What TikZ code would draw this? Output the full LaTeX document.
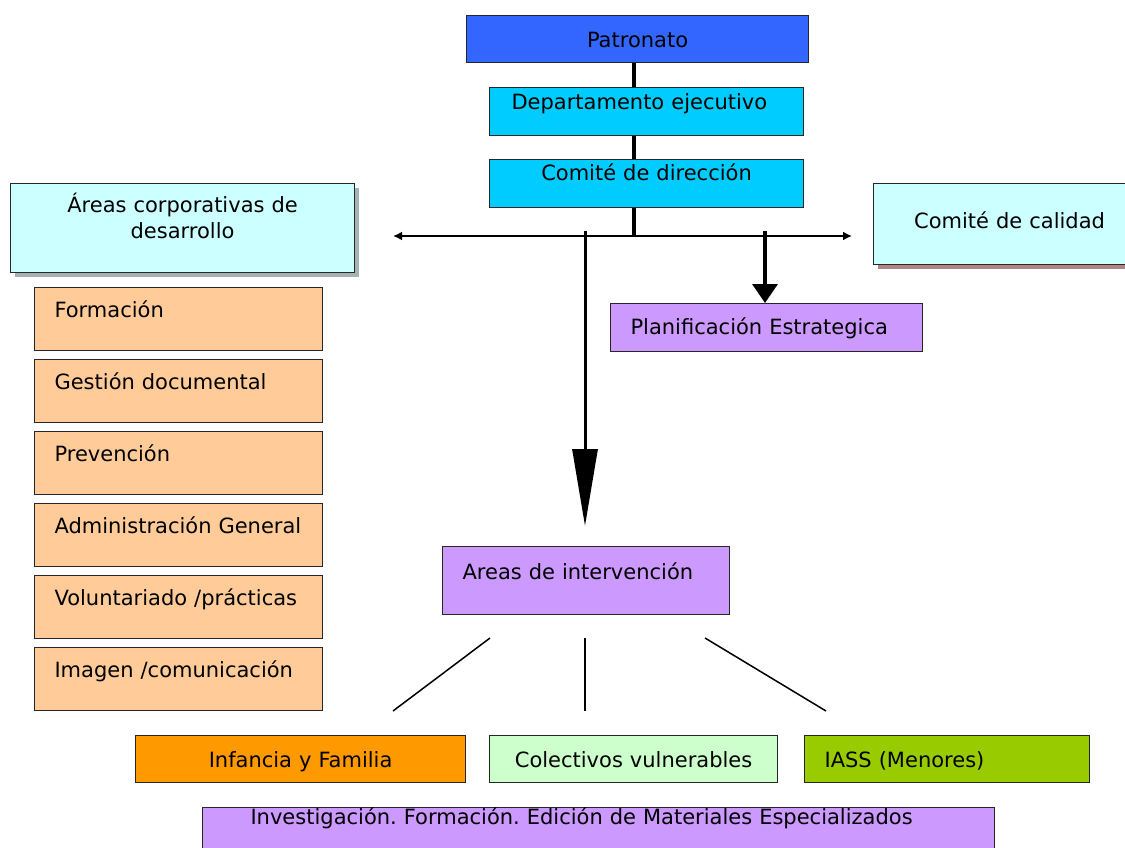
\documentclass[tikz,border=0pt]{standalone}
\usepackage{fontspec}
\setmainfont{DejaVu Sans}
\usetikzlibrary{arrows.meta,calc,shadows}
\definecolor{cPat}{HTML}{3366FF}
\definecolor{cDep}{HTML}{00CCFF}
\definecolor{cCorp}{HTML}{CCFFFF}
\definecolor{cOra}{HTML}{FFCC99}
\definecolor{cPur}{HTML}{CC99FF}
\definecolor{cInf}{HTML}{FF9900}
\definecolor{cCol}{HTML}{CCFFCC}
\definecolor{cIass}{HTML}{99CC00}
\definecolor{shA}{HTML}{A3B3B3}
\definecolor{shB}{HTML}{B08484}
\begin{document}
\frenchspacing
\begin{tikzpicture}[x=1pt,y=-1pt,
  font=\fontsize{21}{26}\selectfont\frenchspacing,
  box/.style={draw=black!85, line width=1.1pt, inner sep=0pt, anchor=north west},
  leftbox/.style={box, inner xsep=20pt, align=left},
  cbox/.style={box, align=center},
  thickline/.style={line width=4pt},
  conn/.style={line width=1.5pt}]
\useasboundingbox (0,0) rectangle (1125,848);
\clip (0,0) rectangle (1125,848);

% top chain
\node[cbox, fill=cPat, text width=342pt, text height=32pt, text depth=15pt] (pat) at (466,15) {Patronato};
\node[box, fill=cDep, inner xsep=22pt, align=left, text width=270pt, text height=22pt, text depth=26pt] (dept) at (489,87) {Departamento ejecutivo};
\node[cbox, fill=cDep, text width=314pt, text height=21pt, text depth=27pt] (dir) at (489,159) {Comité de dirección};

% side boxes with shadows
\node[cbox, fill=cCorp, text width=344pt, text height=29pt, text depth=60pt,
  drop shadow={shadow xshift=4pt, shadow yshift=-4pt, fill=shA, opacity=1}] (corp) at (10,183) {Áreas corporativas de\\desarrollo};
\node[cbox, fill=cCorp, text width=272pt, text height=45pt, text depth=36pt,
  drop shadow={shadow xshift=4pt, shadow yshift=-4pt, fill=shB, opacity=1}] (cal) at (873,183) {Comité de calidad};

% left column
\node[leftbox, fill=cOra, text width=248pt, text height=30pt, text depth=33pt] (o1) at (34,287) {Formación};
\node[leftbox, fill=cOra, text width=248pt, text height=30pt, text depth=33pt] (o2) at (34,359) {Gestión documental};
\node[leftbox, fill=cOra, text width=248pt, text height=30pt, text depth=33pt] (o3) at (34,431) {Prevención};
\node[leftbox, fill=cOra, text width=248pt, text height=30pt, text depth=33pt] (o4) at (34,503) {Administración General};
\node[leftbox, fill=cOra, text width=248pt, text height=30pt, text depth=33pt] (o5) at (34,575) {Voluntariado /prácticas};
\node[leftbox, fill=cOra, text width=248pt, text height=30pt, text depth=33pt] (o6) at (34,647) {Imagen /comunicación};

% purple boxes
\node[leftbox, fill=cPur, text width=272pt, text height=31pt, text depth=17pt] (plan) at (610,303) {Planificación Estrategica};
\node[leftbox, fill=cPur, text width=247pt, text height=33pt, text depth=35pt] (area) at (442,546) {Areas de intervención};

% bottom row
\node[cbox, fill=cInf, text width=330pt, text height=32pt, text depth=15pt] (inf) at (135,735) {Infancia y Familia};
\node[cbox, fill=cCol, text width=288pt, text height=32pt, text depth=15pt] (col) at (489,735) {Colectivos vulnerables};
\node[leftbox, fill=cIass, text width=245pt, text height=32pt, text depth=15pt] (iass) at (804,735) {IASS (Menores)};
\node[box, fill=cPur, inner xsep=48pt, align=left, text width=696pt, text height=17pt, text depth=50pt] (inv) at (202,807) {Investigación. Formación. Edición de Materiales Especializados};

% connectors
\coordinate (hub) at (634,236);
\coordinate (L) at (393,236);
\coordinate (R) at (852,236);
\coordinate (t1) at (585,231);
\coordinate (tip) at (585,526);
\coordinate (t2) at (765,231);
\draw[thickline] (hub |- pat.south) -- (hub |- dept.north);
\draw[thickline] (hub |- dept.south) -- (hub |- dir.north);
\draw[thickline] (hub |- dir.south) -- (hub);
\draw[line width=2pt, {Latex[length=9pt,width=9pt]}-{Latex[length=9pt,width=9pt]}] (L) -- (R);
\draw[line width=3pt, -{Triangle[length=77pt,width=25pt]}] (t1) -- (tip);
\draw[line width=3.5pt, -{Triangle[length=19pt,width=25pt]}] (t2) -- (t2 |- plan.north);

\coordinate (a1) at (490,638); \coordinate (b1) at (393,711);
\coordinate (a2) at (585,638); \coordinate (b2) at (585,711);
\coordinate (a3) at (705,638); \coordinate (b3) at (826,711);
\draw[conn] (a1) -- (b1);
\draw[conn] (a2) -- (b2);
\draw[conn] (a3) -- (b3);
\end{tikzpicture}
\end{document}
